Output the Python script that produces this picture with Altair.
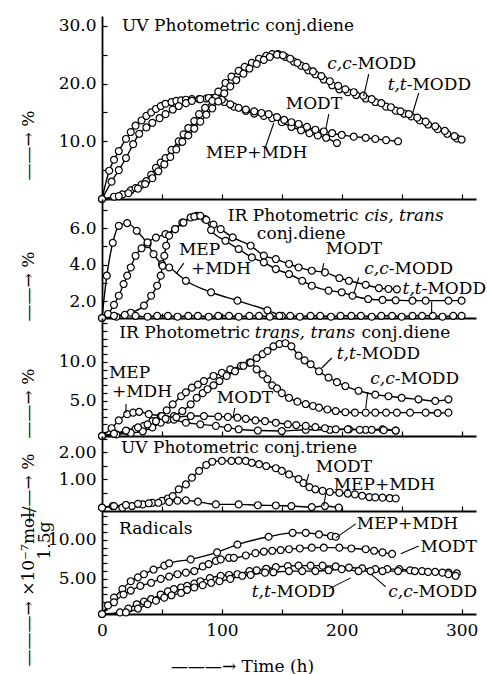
import altair as alt
import pandas as pd

FONT = "DejaVu Serif"
FS = 17
W = 374                      # plot width in px (0..312 h)
X_DOMAIN = [0, 312]
TIME_TICKS = [0, 50, 100, 150, 200, 250, 300]
TIME_LABELS = [0, 100, 200, 300]

# ---------------- Panel 1: UV photometric conj. diene (%) ----------------
P1_MEP_T = [0, 6, 10, 14, 20, 24, 28, 33, 37, 41, 45, 49, 53, 58, 62, 66, 70, 75, 81, 87,
            92, 97, 102, 110, 120, 127, 135, 142, 150, 158, 166, 173, 180, 187, 196]
P1_MEP_V = [0, 4.9, 6.8, 8.3, 10.4, 11.6, 12.7, 13.6, 14.4, 15.0, 15.6, 16.1, 16.5, 16.8, 17.0, 17.1, 17.2, 17.3, 17.3, 17.4,
            17.5, 17.4, 16.8, 16.0, 15.25, 14.8, 14.4, 14.0, 13.3, 12.5, 11.9, 11.4, 11.0, 10.6, 9.7]
P1_MODT_T = [0, 8, 14, 20, 26, 31, 37, 42, 48, 53, 59, 64, 70, 75, 82, 89, 95, 100, 107, 114,
             120, 127, 133, 139, 146, 152, 158, 164, 171, 178, 185, 192, 200, 210, 220, 228, 237, 247]
P1_MODT_V = [0, 3.0, 5.0, 7.1, 9.5, 11.3, 12.4, 13.2, 14.0, 14.7, 15.5, 16.1, 16.6, 17.0, 17.3, 17.5, 17.6, 17.2, 16.4, 15.8,
             15.5, 15.2, 14.9, 14.7, 14.2, 13.7, 13.3, 13.0, 12.5, 12.0, 11.7, 11.4, 11.1, 10.8, 10.6, 10.4, 10.2, 10.0]
P1_TT_T = [0, 10, 17, 24, 28, 33, 37, 41, 45, 49, 53, 58, 64, 68, 72, 77, 81, 86, 92, 97,
           103, 108, 114, 119, 125, 131, 137, 142, 147, 153, 160, 166, 172, 178, 185, 192, 198, 205, 212, 220,
           228, 237, 245, 252, 258, 265, 272, 280, 288, 296]
P1_TT_V = [0, 0.4, 0.8, 1.5, 1.9, 2.5, 3.1, 4.2, 5.4, 6.3, 7.1, 8.5, 10.0, 11.2, 12.3, 13.5, 14.7, 15.8, 17.0, 18.6,
           20.1, 21.2, 22.2, 22.9, 23.6, 24.3, 24.8, 25.1, 25.1, 24.6, 23.8, 23.1, 22.3, 21.6, 20.7, 19.7, 19.0, 18.5, 18.0, 17.4,
           16.8, 16.0, 15.3, 14.8, 14.3, 13.6, 12.9, 12.1, 11.3, 10.5]
P1_CC_T = [0, 14, 22, 30, 36, 42, 47, 52, 57, 62, 67, 72, 77, 82, 87, 92, 97, 102, 107, 112,
           118, 123, 129, 135, 140, 146, 151, 157, 163, 170, 176, 183, 190, 197, 203, 210, 218, 225, 233, 241,
           249, 256, 263, 270, 278, 286, 294, 300]
P1_CC_V = [0, 0.5, 1.0, 1.8, 2.6, 3.6, 4.8, 6.0, 7.3, 8.6, 9.9, 11.0, 12.2, 13.4, 14.6, 15.7, 16.9, 18.3, 19.5, 20.6,
           21.7, 22.6, 23.4, 24.1, 24.6, 25.0, 24.9, 24.3, 23.6, 22.9, 22.1, 21.3, 20.4, 19.6, 19.0, 18.5, 17.9, 17.3, 16.6, 15.9,
           15.2, 14.7, 14.1, 13.4, 12.6, 11.8, 10.9, 10.3]

# ---------------- Panel 2: IR cis,trans conj. diene (%) ----------------
P2_MEP_T = [0, 4, 9, 14, 21, 29, 38, 43, 50, 56, 70, 91, 113, 138, 150]
P2_MEP_V = [1.08, 3.4, 5.2, 6.13, 6.28, 5.86, 5.13, 4.58, 4.03, 3.85, 3.12, 2.49, 2.03, 1.5, 1.2]
P2_MODT_T = [0, 5, 10, 14, 18, 21, 24, 28, 33, 38, 45, 53, 61, 67, 74, 79, 86, 93, 99, 109,
             124, 135, 145, 156, 164, 175, 186, 198, 206, 220, 231, 239, 246]
P2_MODT_V = [1.08, 1.3, 1.8, 2.3, 2.94, 3.4, 3.85, 4.49, 4.9, 5.22, 5.49, 5.68, 5.95, 6.31, 6.59, 6.68, 6.5, 6.2, 5.95, 5.5,
             5.04, 4.5, 4.31, 4.04, 3.85, 3.67, 3.58, 3.27, 3.12, 2.9, 2.72, 2.67, 2.65]
P2_CC_T = [0, 12, 24, 35, 41, 46, 49, 50.5, 52, 53.5, 56, 61, 68, 77, 82, 87, 91, 103, 114, 125,
           135, 145, 156, 167, 175, 189, 200, 209, 222, 234, 245, 259, 270, 289, 300]
P2_CC_V = [1.08, 1.15, 1.37, 1.76, 2.3, 2.85, 3.4, 3.94, 4.49, 5.04, 5.59, 5.95, 6.31, 6.64, 6.68, 6.45, 5.9, 5.31, 4.86, 4.40,
           4.13, 3.76, 3.49, 3.12, 2.85, 2.58, 2.49, 2.3, 2.12, 2.07, 2.05, 2.03, 2.03, 2.03, 2.03]
P2_TT_T = [0, 10, 19, 28, 38, 46, 55, 63, 72, 80, 89, 97, 106, 114, 123, 131, 140, 148, 157, 165,
           174, 182, 191, 199, 208, 216, 225, 233, 242, 250, 259, 267, 276, 284, 293, 300]
P2_TT_V = [1.08, 1.2, 1.25, 1.2, 1.15, 1.2, 1.2, 1.15, 1.2, 1.2, 1.15, 1.2, 1.2, 1.15, 1.2, 1.2, 1.15, 1.2, 1.2, 1.15,
           1.2, 1.2, 1.15, 1.2, 1.2, 1.2, 1.15, 1.2, 1.2, 1.15, 1.2, 1.2, 1.2, 1.15, 1.2, 1.2]

# ---------------- Panel 3: IR trans,trans conj. diene (%) ----------------
P3_TT_T = [0, 10, 21, 28, 35, 42, 49, 54, 59, 66, 70, 75, 80, 85, 93, 100, 107, 116, 123, 129,
           134, 138, 143, 148, 153, 158, 164, 169, 174, 181, 189, 196, 203, 214, 228, 239, 250, 264, 278, 289]
P3_TT_V = [0.5, 0.8, 1.1, 1.4, 1.8, 2.4, 3.06, 3.8, 4.56, 5.6, 6.1, 6.7, 7.1, 7.55, 8.2, 8.6, 9.05, 9.5, 9.9, 10.5,
           11.0, 11.4, 12.0, 12.3, 12.4, 12.0, 10.8, 10.2, 9.7, 8.8, 8.0, 7.4, 6.9, 6.3, 5.8, 5.6, 5.4, 5.2, 5.0, 5.2]
P3_CC_T = [0, 12, 24, 34, 42, 49, 55, 60, 67, 74, 79, 84, 88, 93, 98, 104, 111, 118, 124, 129,
           134, 138, 142, 146, 150, 156, 163, 170, 176, 181, 188, 195, 203, 211, 220, 228, 237, 246, 257, 270, 280, 289]
P3_CC_V = [0.5, 0.7, 0.9, 1.1, 1.6, 2.2, 2.6, 3.06, 3.7, 4.56, 5.4, 6.0, 6.5, 7.0, 7.55, 8.2, 8.8, 9.5, 9.9, 9.05,
           8.4, 7.8, 7.0, 6.6, 6.0, 5.4, 4.9, 4.6, 4.35, 4.13, 3.9, 3.7, 3.55, 3.5, 3.5, 3.5, 3.5, 3.5, 3.5, 3.5, 3.45, 3.5]
P3_MEP_T = [0, 8, 14, 21, 26, 31, 39, 50, 60, 70, 82, 95, 105, 114, 130, 150, 170, 190, 206, 220, 234, 245]
P3_MEP_V = [0.5, 1.5, 2.5, 3.3, 3.5, 3.6, 3.3, 3.06, 2.6, 2.2, 2.0, 1.8, 1.55, 1.36, 1.2, 1.14, 1.3, 1.3, 1.36, 1.3, 1.36, 1.2]
P3_MODT_T = [0, 10, 20, 30, 38, 45, 53, 62, 74, 85, 97, 105, 113, 120, 128, 136, 145, 155, 162, 170,
             178, 186, 195, 205, 215, 225, 235, 245]
P3_MODT_V = [0.5, 0.8, 1.2, 1.6, 2.0, 2.4, 2.7, 2.9, 3.06, 3.06, 3.0, 2.95, 2.85, 2.7, 2.5, 2.4, 2.2, 2.0, 1.9, 1.8,
             1.65, 1.5, 1.36, 1.36, 1.3, 1.3, 1.25, 1.2]

# ---------------- Panel 4: UV conj. triene (%) ----------------
P4_MODT_T = [0, 9, 17, 25, 34, 42, 50, 55, 59, 64, 70, 75, 81, 87, 92, 100, 108, 114, 120, 125,
             131, 137, 145, 150, 156, 164, 168, 173, 178, 184, 190, 198, 205, 211, 217, 223, 228, 234, 240, 245]
P4_MODT_V = [-0.06, 0, -0.06, 0, 0.06, 0.12, 0.19, 0.28, 0.37, 0.62, 0.8, 1.05, 1.3, 1.52, 1.64, 1.67, 1.67, 1.68, 1.67, 1.6,
             1.55, 1.48, 1.4, 1.3, 1.17, 1.0, 0.85, 0.7, 0.62, 0.56, 0.52, 0.49, 0.46, 0.43, 0.38, 0.33, 0.32, 0.31, 0.29, 0.28]
P4_MEP_T = [0, 10, 20, 30, 39, 47, 56, 63, 70, 80, 95, 114, 130, 145, 158, 175, 186, 197.5]
P4_MEP_V = [-0.06, 0, 0.04, 0.08, 0.1, 0.12, 0.15, 0.2, 0.21, 0.16, 0.06, 0.06, 0.03, 0.02, 0, -0.04, 0, -0.06]

# ---------------- Panel 5: radicals (x10^-7 mol / 1.5 g) ----------------
P5_MEP_T = [0, 5, 10, 17, 24, 30, 35, 43, 52, 56, 74, 96, 113, 139, 159, 170, 181, 191, 195]
P5_MEP_V = [0.5, 1.6, 2.6, 3.7, 4.7, 5.2, 5.6, 6.2, 6.7, 7.0, 7.5, 8.4, 9.4, 10.4, 10.9, 10.9, 10.7, 10.5, 10.4]
P5_MODT_T = [0, 10, 18, 24, 32, 41, 49, 56, 63, 70, 77, 84, 89, 95, 99, 106, 110, 120, 128, 135,
             142, 149, 156, 165, 175, 185, 198, 208, 220, 227, 234, 242]
P5_MODT_V = [0.5, 2.0, 3.0, 3.5, 4.1, 4.5, 5.0, 5.3, 5.6, 5.8, 6.0, 6.6, 6.9, 7.3, 7.5, 7.7, 7.7, 8.0, 8.3, 8.5,
             8.6, 8.7, 8.8, 8.9, 9.0, 9.0, 9.0, 8.9, 8.8, 8.6, 8.4, 8.2]
P5_TT_T = [0, 15, 22, 29, 35, 41, 49, 55, 60, 66, 71, 77, 82, 90, 99, 106, 113, 123, 129, 137,
           145, 155, 164, 174, 184, 195, 206, 217, 228, 238, 248, 257, 267, 278, 289, 296]
P5_TT_V = [0.5, 0.7, 1.2, 1.75, 2.1, 2.4, 3.0, 3.4, 3.7, 3.9, 4.1, 4.4, 4.7, 5.1, 5.4, 5.5, 5.6, 6.0, 6.1, 6.3,
           6.5, 6.65, 6.7, 6.7, 6.7, 6.6, 6.45, 6.35, 6.25, 6.25, 6.25, 6.1, 6.0, 5.9, 5.8, 5.7]
P5_CC_T = [0, 20, 30, 38, 45, 52, 58, 66, 71, 77, 84, 91, 98, 107, 117, 124, 136, 143, 156, 167,
           178, 189, 200, 214, 224, 234, 247, 261, 272, 284, 289, 295]
P5_CC_V = [0.5, 0.7, 1.2, 1.75, 2.2, 2.6, 2.9, 3.2, 3.6, 3.9, 4.2, 4.5, 4.7, 5.0, 5.4, 5.5, 5.8, 5.85, 6.0, 6.0,
           6.0, 6.1, 6.25, 6.0, 6.0, 6.0, 6.0, 6.0, 5.9, 5.8, 5.6, 5.4]

# ---------------- annotations (data coordinates) ----------------
# (time, value, text, align, fontStyle)
LABELS_P1 = [(16.7, 30.0, "UV Photometric conj.diene", "left", "normal"),
             (208.3, 23.4, "c,c", "right", "italic"), (208.3, 23.4, "-MODD", "left", "normal"),
             (254.2, 19.75, "t,t", "right", "italic"), (254.2, 19.75, "-MODD", "left", "normal"),
             (153.3, 16.4, "MODT", "left", "normal"),
             (86.7, 8.0, "MEP+MDH", "left", "normal")]
LABELS_P2 = [(214.0, 6.67, "IR Photometric", "right", "normal"),
             (219.0, 6.67, "cis, trans", "left", "italic"),
             (129.2, 5.66, "conj.diene", "left", "normal"),
             (64.2, 4.81, "MEP", "left", "normal"),
             (74.2, 3.77, "+MDH", "left", "normal"),
             (186.7, 4.84, "MODT", "left", "normal"),
             (239.2, 3.74, "c,c", "right", "italic"), (239.2, 3.74, "-MODD", "left", "normal"),
             (266.7, 2.68, "t,t", "right", "italic"), (266.7, 2.68, "-MODD", "left", "normal")]
LABELS_P3 = [(123.5, 13.7, "IR Photometric", "right", "normal"),
             (127.5, 13.7, "trans, trans", "left", "italic"),
             (216.5, 13.7, "conj.diene", "left", "normal"),
             (5.8, 8.58, "MEP", "left", "normal"),
             (8.3, 6.14, "+MDH", "left", "normal"),
             (95.8, 5.37, "MODT", "left", "normal"),
             (211.7, 11.0, "t,t", "right", "italic"), (211.7, 11.0, "-MODD", "left", "normal"),
             (244.2, 7.81, "c,c", "right", "italic"), (244.2, 7.81, "-MODD", "left", "normal")]
LABELS_P4 = [(15.8, 2.15, "UV Photometric conj.triene", "left", "normal"),
             (178.3, 1.43, "MODT", "left", "normal"),
             (193.3, 0.79, "MEP+MDH", "left", "normal")]
LABELS_P5 = [(14.2, 11.4, "Radicals", "left", "normal"),
             (212.5, 12.05, "MEP+MDH", "left", "normal"),
             (265.8, 9.10, "MODT", "left", "normal"),
             (140.8, 3.33, "t,t", "right", "italic"), (140.8, 3.33, "-MODD", "left", "normal"),
             (259.2, 3.33, "c,c", "right", "italic"), (259.2, 3.33, "-MODD", "left", "normal")]

# leader lines (t1, v1, t2, v2)
LEAD_P1 = [(222.5, 21.65, 218.3, 17.84), (264.2, 18.36, 259.2, 14.9),
           (189.2, 14.72, 186.7, 12.13), (136.7, 9.18, 143.3, 13.16)]
LEAD_P2 = [(68.3, 4.09, 61.7, 3.49), (185.0, 4.09, 183.3, 3.55),
           (214.2, 3.30, 210.0, 2.40), (275.0, 1.98, 275.0, 1.30)]
LEAD_P3 = [(20.0, 4.60, 20.0, 3.45), (110.8, 4.09, 109.2, 2.81),
           (191.7, 10.5, 183.3, 9.22), (221.7, 6.14, 220.0, 4.09)]
LEAD_P4 = [(172.5, 1.18, 170.0, 0.81), (186.7, 0.46, 185.0, 0.0)]
LEAD_P5 = [(211.7, 12.05, 195.0, 10.26), (264.2, 9.23, 249.2, 8.21),
           (189.2, 3.72, 207.5, 5.13), (236.7, 3.97, 224.2, 5.64)]


def build_panel(height, ydom, yticks, ylabels, yfmt, series, labels, leaders,
                ytitle, title_y, bottom=False, extra_title=None):
    xs = alt.Scale(domain=X_DOMAIN, nice=False, zero=False)
    ys = alt.Scale(domain=ydom, nice=False, zero=False)
    rows = []
    for name, ts, vs in series:
        for t, v in zip(ts, vs):
            rows.append({"t": t, "v": v, "s": name})
    df = pd.DataFrame(rows)

    x_tick_axis = alt.Axis(orient="top", offset=-height, values=TIME_TICKS, labels=False,
                           ticks=True, tickSize=5, tickWidth=1.2, tickColor="black",
                           domain=True, domainColor="black", domainWidth=1.8, grid=False, title=None)
    y_label_axis = alt.Axis(orient="left", values=ylabels, format=yfmt, ticks=False, labelPadding=6,
                            domain=True, domainColor="black", domainWidth=1.8, grid=False,
                            title=ytitle, titleX=-74, titleY=title_y, titleAngle=270,
                            titleAlign="center", titleBaseline="middle")
    kw = dict(orient="right", offset=-W, values=yticks, labels=False, ticks=True, tickSize=5,
              tickWidth=1.2, tickColor="black", domain=False, grid=False)
    if extra_title:
        kw.update(title=extra_title[0], titleX=-58, titleY=extra_title[1], titleAngle=270,
                  titleAlign="center", titleBaseline="middle")
    else:
        kw.update(title=None)
    y_tick_axis = alt.Axis(**kw)
    if bottom:
        x_point_axis = alt.Axis(orient="bottom", values=TIME_LABELS, format="d", labelFlush=False,
                                ticks=False, domain=False, grid=False, labelPadding=8,
                                title="———→  Time (h)", titleX=140, titleY=52,
                                titleAlign="center", titleBaseline="middle")
    else:
        x_point_axis = None

    lines = alt.Chart(df).mark_line(color="black", strokeWidth=1.4, interpolate="monotone").encode(
        x=alt.X("t:Q", scale=xs, axis=x_tick_axis),
        y=alt.Y("v:Q", scale=ys, axis=y_label_axis),
        detail="s:N")
    points = alt.Chart(df).mark_point(shape="circle", filled=True, fill="white", stroke="black",
                                      strokeWidth=1.2, size=48, opacity=1).encode(
        x=alt.X("t:Q", scale=xs, axis=x_point_axis),
        y=alt.Y("v:Q", scale=ys, axis=y_tick_axis))

    ldf = pd.DataFrame(labels, columns=["t", "v", "text", "align", "style"])
    texts = []
    for (al, st), grp in ldf.groupby(["align", "style"]):
        texts.append(alt.Chart(grp).mark_text(align=al, baseline="middle", font=FONT, fontSize=FS,
                                              fontStyle=st, color="black").encode(
            x=alt.X("t:Q", scale=xs, axis=None),
            y=alt.Y("v:Q", scale=ys, axis=None),
            text="text:N"))
    rdf = pd.DataFrame(leaders, columns=["t1", "v1", "t2", "v2"])
    rules = alt.Chart(rdf).mark_rule(color="black", strokeWidth=1.1).encode(
        x=alt.X("t1:Q", scale=xs, axis=None), x2="t2:Q",
        y=alt.Y("v1:Q", scale=ys, axis=None), y2="v2:Q")

    return alt.layer(lines, points, *texts, rules).resolve_axis(
        x="independent", y="independent").properties(width=W, height=height)


ARROW_PCT = "——→ %"

p1 = build_panel(183, [0, 31.7], [5, 10, 15, 20, 25, 30], [10, 20, 30], ".1f",
                 [("MEP+MDH", P1_MEP_T, P1_MEP_V), ("MODT", P1_MODT_T, P1_MODT_V),
                  ("t,t-MODD", P1_TT_T, P1_TT_V), ("c,c-MODD", P1_CC_T, P1_CC_V)],
                 LABELS_P1, LEAD_P1, ARROW_PCT, 129)
p2 = build_panel(119, [1.08, 7.6], [2, 3, 4, 5, 6, 7], [2, 4, 6], ".1f",
                 [("MEP+MDH", P2_MEP_T, P2_MEP_V), ("MODT", P2_MODT_T, P2_MODT_V),
                  ("c,c-MODD", P2_CC_T, P2_CC_V), ("t,t-MODD", P2_TT_T, P2_TT_V)],
                 LABELS_P2, LEAD_P2, ARROW_PCT, 87)
p3 = build_panel(118, [0.5, 15.63], list(range(1, 16)), [5, 10], ".1f",
                 [("t,t-MODD", P3_TT_T, P3_TT_V), ("c,c-MODD", P3_CC_T, P3_CC_V),
                  ("MEP+MDH", P3_MEP_T, P3_MEP_V), ("MODT", P3_MODT_T, P3_MODT_V)],
                 LABELS_P3, LEAD_P3, ARROW_PCT, 85)
p4 = build_panel(75, [-0.185, 2.593], [0.5, 1.0, 1.5, 2.0, 2.5], [1, 2], ".2f",
                 [("MODT", P4_MODT_T, P4_MODT_V), ("MEP+MDH", P4_MEP_T, P4_MEP_V)],
                 LABELS_P4, LEAD_P4, ARROW_PCT, 52)
p5 = build_panel(103, [0.5, 13.7], list(range(1, 14)), [5, 10], ".2f",
                 [("MEP+MDH", P5_MEP_T, P5_MEP_V), ("MODT", P5_MODT_T, P5_MODT_V),
                  ("t,t-MODD", P5_TT_T, P5_TT_V), ("c,c-MODD", P5_CC_T, P5_CC_V)],
                 LABELS_P5, LEAD_P5, "———→ ×10⁻⁷mol/", 75, bottom=True, extra_title=("1.5g", 29))

chart = alt.vconcat(p1, p2, p3, p4, p5, spacing=0, bounds="flush").properties(
    padding={"left": 19, "top": 16, "right": 0, "bottom": 0},
    background="white"
).configure_view(stroke=None).configure_axis(
    labelFont=FONT, labelFontSize=FS, labelColor="black",
    titleFont=FONT, titleFontSize=FS, titleFontWeight="normal", titleColor="black"
)

chart.save("out.html", embed_options={"renderer": "svg", "actions": False})
